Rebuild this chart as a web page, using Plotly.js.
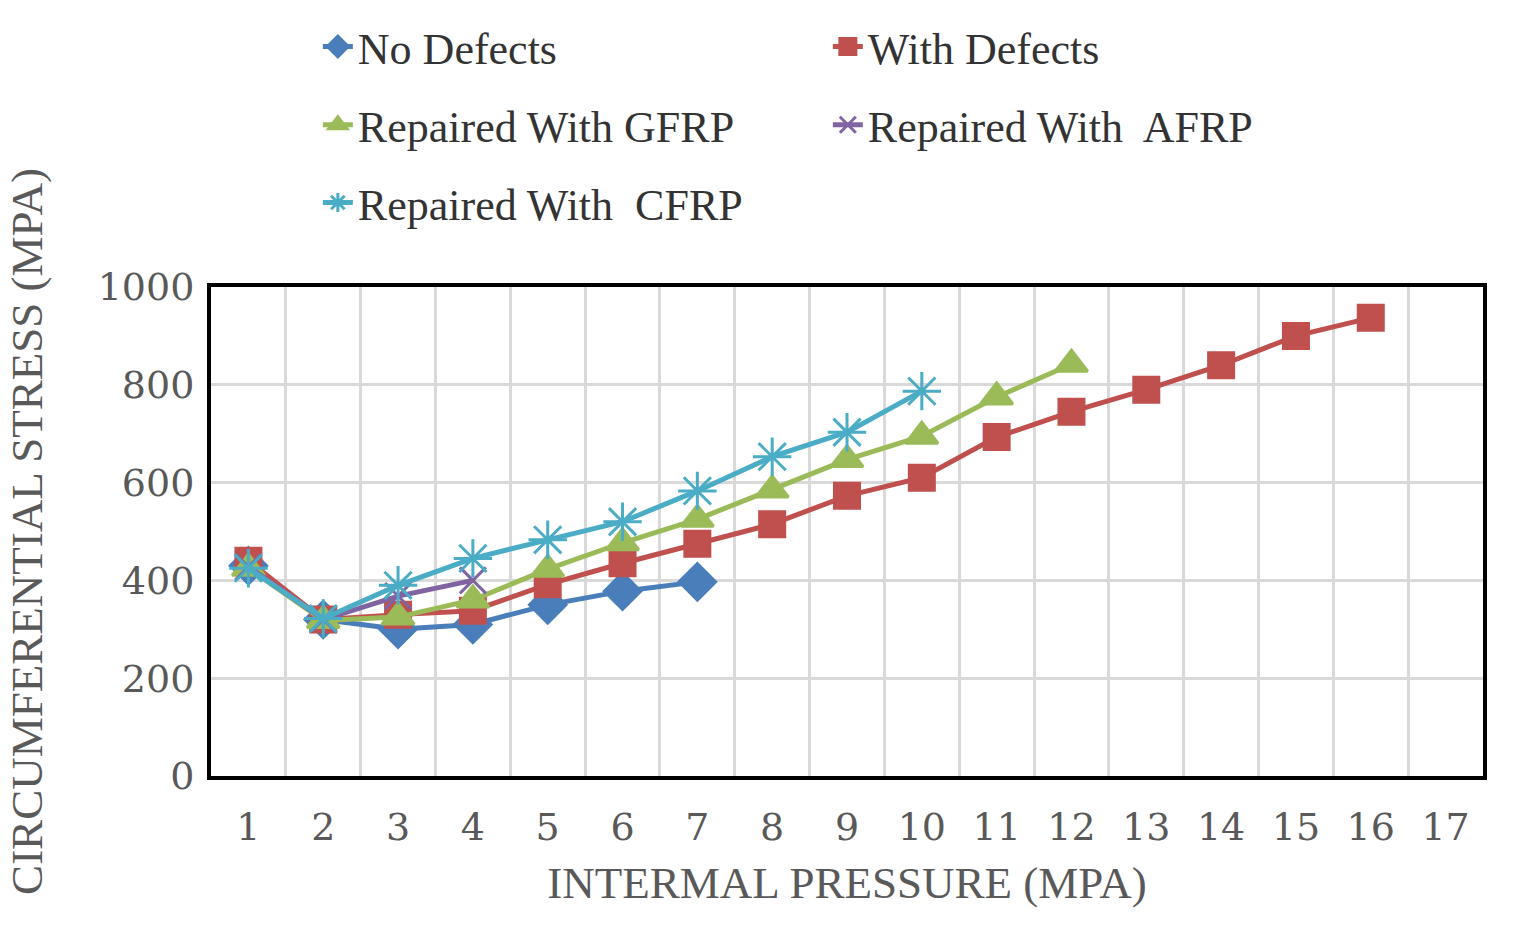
<!DOCTYPE html>
<html>
<head>
<meta charset="utf-8">
<script src="https://cdn.plot.ly/plotly-3.0.1.min.js"></script>
<style>
  html, body { margin: 0; padding: 0; background: #fff; }
  #chart { width: 1535px; height: 926px; }
</style>
</head>
<body>
<div id="chart"></div>
<script>
// internal pressure categories (MPa)
const pressure = ['1','2','3','4','5','6','7','8','9','10','11','12','13','14','15','16','17'];

// circumferential stress (MPa)
const noDefects   = [430, 320, 300, 310, 350, 378, 397];
const withDefects = [440, 320, 330, 338, 392, 435, 475, 515, 573, 610, 693, 745, 790, 840, 900, 937];
const gfrp        = [425, 318, 325, 360, 423, 477, 525, 585, 647, 695, 775, 842];
const afrp        = [428, 320, 368, 400];
const cfrp        = [425, 322, 390, 445, 483, 520, 583, 653, 703, 787];

const serif = '"Liberation Serif", "DejaVu Serif", serif';
const tickSerif = '"DejaVu Serif", "Liberation Serif", serif'; // wider digits, closer to the original

function series(name, y, color, symbol, size, legend) {
  return {
    x: pressure.slice(0, y.length), y, name,
    type: 'scatter', mode: 'lines+markers',
    line: { color, width: 5 },
    marker: { symbol, size, color, line: { color, width: 3 } },
    legend
  };
}

const traces = [
  series('No Defects', noDefects, '#4A7EBB', 'diamond', 28, 'legend'),
  series('With Defects', withDefects, '#C0504D', 'square', 25, 'legend'),
  series('Repaired With GFRP', gfrp, '#9BBB59', 'triangle-up', 28, 'legend2'),
  series('Repaired With  AFRP', afrp, '#8064A2', 'x-thin', 26, 'legend2'),
  series('Repaired With  CFRP', cfrp, '#4BACC6', 'asterisk', 32, 'legend3')
];

const legendBase = {
  orientation: 'h', x: 0.084, xanchor: 'left', yanchor: 'middle',
  entrywidth: 465, bgcolor: 'rgba(0,0,0,0)',
  font: { family: serif, size: 44, color: '#333333' }
};

const layout = {
  width: 1535, height: 926,
  paper_bgcolor: '#fff', plot_bgcolor: '#fff',
  margin: { l: 211, r: 52, t: 287, b: 150 },
  font: { family: serif, color: '#595959' },
  xaxis: {
    type: 'category', categoryorder: 'array', categoryarray: pressure,
    range: [-0.5, 16.5], tickson: 'boundaries', ticks: '',
    showgrid: true, gridcolor: '#D9D9D9', gridwidth: 3,
    showline: true, mirror: true, linecolor: '#000', linewidth: 4,
    tickfont: { family: tickSerif, size: 38, color: '#595959' },
    ticklabelstandoff: 14,
    title: { text: 'INTERMAL PRESSURE (MPA)', font: { family: serif, size: 45, color: '#595959' }, standoff: 20 }
  },
  yaxis: {
    range: [0, 1000], dtick: 200, ticks: '',
    showgrid: true, gridcolor: '#D9D9D9', gridwidth: 3, zeroline: false,
    showline: true, mirror: true, linecolor: '#000', linewidth: 4,
    tickfont: { family: tickSerif, size: 38, color: '#595959' },
    ticklabelstandoff: 5,
    title: { text: 'CIRCUMFERENTIAL STRESS (MPA)', font: { family: serif, size: 45, color: '#595959' }, standoff: 42 }
  },
  legend:  Object.assign({}, legendBase, { y: 1.491 }),
  legend2: Object.assign({}, legendBase, { y: 1.331 }),
  legend3: Object.assign({}, legendBase, { y: 1.172 }),
  showlegend: true
};

Plotly.newPlot('chart', traces, layout, { displayModeBar: false, staticPlot: true });
</script>
</body>
</html>
